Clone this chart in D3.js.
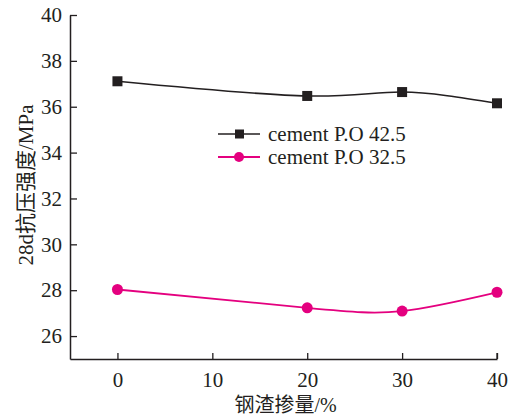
<!DOCTYPE html>
<html lang="zh">
<head>
  <meta charset="utf-8">
  <title>28d strength vs steel slag</title>
  <script src="https://d3js.org/d3.v7.min.js"></script>
  <style>
    body { margin: 0; background: #fff; }
    text { fill: #231f20; }
  </style>
</head>
<body>
<script>
// data
var slag = [0, 20, 30, 40];
var po425 = [37.11, 36.47, 36.64, 36.15];
var po325 = [28.03, 27.23, 27.09, 27.91];
var seriesNames = ["cement P.O 42.5", "cement P.O 32.5"];
var xTicks = [0, 10, 20, 30, 40];
var yTicks = [26, 28, 30, 32, 34, 36, 38, 40];

var W = 515, H = 419;
var ink = "#231f20", pink = "#e4007f";

var svg = d3.select("body").append("svg")
  .attr("width", W).attr("height", H);

var x = d3.scaleLinear().domain([-5, 40]).range([70, 497]);
var y = d3.scaleLinear().domain([25, 40]).range([359, 15]);

var serif = "'Liberation Serif', 'Times New Roman', serif";

// axes
var xAxis = svg.append("g")
  .attr("transform", "translate(0," + y(25) + ")")
  .call(d3.axisBottom(x).tickValues(xTicks).tickSizeInner(-6).tickSizeOuter(0).tickPadding(13));
var yAxis = svg.append("g")
  .attr("transform", "translate(" + x(-5) + ",0)")
  .call(d3.axisLeft(y).tickValues(yTicks).tickSizeInner(-7).tickSizeOuter(0).tickPadding(8));

[xAxis, yAxis].forEach(function(a) {
  a.attr("font-family", serif);
  a.select(".domain").attr("stroke", ink).attr("stroke-width", 1.5);
  a.selectAll(".tick line").attr("stroke", ink).attr("stroke-width", 1.3);
  a.selectAll(".tick text").attr("font-family", serif).attr("font-size", 21).attr("fill", ink);
});
// right end cap of x axis
svg.append("line")
  .attr("x1", x(40)).attr("x2", x(40))
  .attr("y1", y(25)).attr("y2", y(25) - 6)
  .attr("stroke", ink).attr("stroke-width", 1.3);

// axis titles
svg.append("text")
  .attr("x", (x(-5) + x(40)) / 2 + 2).attr("y", 412)
  .attr("text-anchor", "middle")
  .attr("font-family", serif + ", 'Noto Sans CJK SC'")
  .attr("font-size", 20)
  .text("钢渣掺量/%");

svg.append("text")
  .attr("transform", "translate(33," + 185 + ") rotate(-90)")
  .attr("text-anchor", "middle")
  .attr("font-family", serif + ", 'Noto Sans CJK SC'")
  .attr("font-size", 21)
  .text("28d抗压强度/MPa");

// lines
var line = d3.line().curve(d3.curveNatural)
  .x(function(d) { return x(d[0]); })
  .y(function(d) { return y(d[1]); });

var s1 = slag.map(function(v, i) { return [v, po425[i]]; });
var s2 = slag.map(function(v, i) { return [v, po325[i]]; });

svg.append("path").datum(s1).attr("d", line)
  .attr("fill", "none").attr("stroke", ink).attr("stroke-width", 1.5);
svg.append("path").datum(s2).attr("d", line)
  .attr("fill", "none").attr("stroke", pink).attr("stroke-width", 1.8);

svg.selectAll(".sq").data(s1).enter().append("rect")
  .attr("x", function(d) { return x(d[0]) - 5; })
  .attr("y", function(d) { return y(d[1]) - 5; })
  .attr("width", 10).attr("height", 10)
  .attr("fill", ink);

svg.selectAll(".dot").data(s2).enter().append("circle")
  .attr("cx", function(d) { return x(d[0]); })
  .attr("cy", function(d) { return y(d[1]); })
  .attr("r", 5.5)
  .attr("fill", pink);

// legend
var leg = svg.append("g");
[ink, pink].forEach(function(c, i) {
  var ly = 134 + i * 23;
  leg.append("line").attr("x1", 218).attr("x2", 260).attr("y1", ly).attr("y2", ly)
    .attr("stroke", c).attr("stroke-width", i ? 1.8 : 1.5);
  if (i === 0) {
    leg.append("rect").attr("x", 235).attr("y", ly - 4.5).attr("width", 9).attr("height", 9).attr("fill", c);
  } else {
    leg.append("circle").attr("cx", 239).attr("cy", ly).attr("r", 5).attr("fill", c);
  }
  leg.append("text").attr("x", 268).attr("y", ly + 7)
    .attr("font-family", serif).attr("font-size", 21)
    .text(seriesNames[i]);
});
</script>
</body>
</html>
